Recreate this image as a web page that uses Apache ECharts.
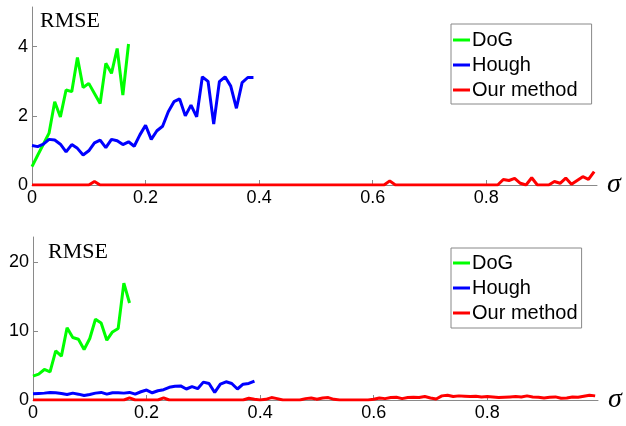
<!DOCTYPE html>
<html>
<head>
<meta charset="utf-8">
<script src="https://cdn.jsdelivr.net/npm/echarts@6/dist/echarts.min.js"></script>
<style>
  html, body { margin: 0; padding: 0; background: #fff; }
  #chart { width: 626px; height: 426px; }
</style>
</head>
<body>
<div id="chart"></div>
<script>
// sigma is sampled every 0.01, starting at 0
const STEP = 0.01
const seriesNames = ['DoG', 'Hough', 'Our method']
const xTicks = [0, 0.2, 0.4, 0.6, 0.8]
const yTicksTop = [0, 2, 4]
const yTicksBottom = [0, 10, 20]

// top panel
const dogTop = [0.53, 0.86, 1.18, 1.5, 2.41, 1.97, 2.75, 2.7, 3.69, 2.82,
    2.94, 2.65, 2.36, 3.52, 3.23, 3.95, 2.6, 4.08]
const houghTop = [1.14, 1.11, 1.18, 1.32, 1.30, 1.18, 0.96, 1.17, 1.06, 0.87,
    0.99, 1.22, 1.30, 1.08, 1.32, 1.28, 1.17, 1.25, 1.12, 1.45,
    1.73, 1.32, 1.57, 1.70, 2.12, 2.41, 2.49, 2.0, 2.31, 1.97,
    3.13, 3.0, 1.76, 2.99, 3.13, 2.86, 2.22, 2.96, 3.11, 3.11]
const oursTop = [0, 0, 0, 0, 0, 0, 0, 0, 0, 0,
    0, 0.1, 0, 0, 0, 0, 0, 0, 0, 0,
    0, 0, 0, 0, 0, 0, 0, 0, 0, 0,
    0, 0, 0, 0, 0, 0, 0, 0, 0, 0,
    0, 0, 0, 0, 0, 0, 0, 0, 0, 0,
    0, 0, 0, 0, 0, 0, 0, 0, 0, 0,
    0, 0, 0, 0.12, 0, 0, 0, 0, 0, 0,
    0, 0, 0, 0, 0, 0, 0, 0, 0, 0,
    0, 0, 0, 0.16, 0.13, 0.19, 0.05, 0, 0.21, 0,
    0, 0, 0.1, 0.05, 0.2, 0.02, 0.13, 0.24, 0.16, 0.39]

// bottom panel
const dogBottom = [3.48, 3.77, 4.44, 4.1, 7.15, 6.38, 10.5, 9.08, 8.84, 7.34,
    8.94, 11.74, 11.2, 8.7, 9.9, 10.4, 17.0, 14.1]
const houghBottom = [0.9, 0.95, 1.0, 1.1, 1.05, 0.95, 0.8, 1.0, 0.85, 0.65,
    0.8, 1.0, 1.1, 0.85, 1.05, 1.05, 1.0, 1.1, 0.85, 1.2,
    1.45, 1.05, 1.35, 1.5, 1.85, 2.0, 2.05, 1.6, 1.95, 1.65,
    2.6, 2.4, 1.1, 2.3, 2.65, 2.4, 1.6, 2.3, 2.4, 2.75]
const oursBottom = [0, 0, 0, 0, 0, 0, 0, 0, 0, 0,
    0, 0, 0, 0, 0, 0, 0, 0.3, 0, 0,
    0, 0, 0, 0.3, 0, 0, 0, 0, 0, 0,
    0, 0, 0, 0, 0, 0, 0, 0, 0.25, 0.1,
    0, 0.1, 0.35, 0.2, 0, 0, 0, 0, 0.2, 0.3,
    0.1, 0.3, 0.35, 0.1, 0, 0, 0, 0, 0, 0,
    0.1, 0.3, 0.2, 0.35, 0.4, 0.2, 0.35, 0.4, 0.35, 0.5,
    0.3, 0.15, 0.6, 0.7, 0.5, 0.6, 0.55, 0.5, 0.55, 0.45,
    0.5, 0.45, 0.35, 0.4, 0.45, 0.5, 0.45, 0.6, 0.45, 0.4,
    0.3, 0.4, 0.45, 0.25, 0.3, 0.45, 0.4, 0.55, 0.7, 0.6]

const colors = ['#00ff00', '#0000ff', '#ff0000']
const axisGray = '#8a8a8a'
const sans = 'Liberation Sans'
const serif = 'Liberation Serif'

const toPoints = arr => arr.map((v, i) => [+(i * STEP).toFixed(2), v])

const xAxisFor = (gridIndex) => ({
    type: 'value',
    gridIndex,
    min: 0,
    max: 0.995,
    name: 'σ',
    nameLocation: 'end',
    nameGap: 10,
    nameTextStyle: { fontFamily: serif, fontStyle: 'italic', fontSize: 28, color: '#000', verticalAlign: 'middle' },
    axisLine: { show: true, lineStyle: { color: axisGray, width: 1 } },
    axisTick: { show: true, inside: true, length: 5, customValues: xTicks, lineStyle: { color: axisGray } },
    axisLabel: { customValues: xTicks, margin: 4, fontFamily: sans, fontSize: 18, color: '#000',
        formatter: v => String(v) },
    splitLine: { show: false }
})

const yAxisFor = (gridIndex, max, ticks) => ({
    type: 'value',
    gridIndex,
    min: 0,
    max,
    axisLine: { show: true, lineStyle: { color: axisGray, width: 1 } },
    axisTick: { show: true, inside: true, length: 5, customValues: ticks, lineStyle: { color: axisGray } },
    axisLabel: { customValues: ticks, margin: 4, fontFamily: sans, fontSize: 18, color: '#000' },
    splitLine: { show: false }
})

const lineSeries = (name, data, idx, color) => ({
    name,
    type: 'line',
    xAxisIndex: idx,
    yAxisIndex: idx,
    data: toPoints(data),
    showSymbol: false,
    symbol: 'none',
    lineStyle: { color, width: 3 },
    itemStyle: { color },
    animation: false
})

const legendFor = (top, padding) => ({
    data: seriesNames,
    orient: 'vertical',
    left: 451,
    top,
    icon: 'rect',
    itemWidth: 17,
    itemHeight: 3,
    itemGap: 5,
    padding,
    backgroundColor: '#fff',
    borderColor: '#888',
    borderWidth: 1,
    textStyle: { fontFamily: sans, fontSize: 20, color: '#000', padding: [0, 0, 0, -3] }
})

const chart = echarts.init(document.getElementById('chart'))
chart.setOption({
    animation: false,
    color: colors,
    grid: [
        { left: 32, top: 7, width: 565, height: 178 },
        { left: 33, top: 237, width: 565, height: 163 }
    ],
    xAxis: [xAxisFor(0), xAxisFor(1)],
    yAxis: [yAxisFor(0, 5.15, yTicksTop), yAxisFor(1, 23.7, yTicksBottom)],
    legend: [legendFor(24, [6, 14, 4, 2]), legendFor(248, [5, 4, 5, 2])],
    graphic: [
        { type: 'text', left: 40, top: 10, style: { text: 'RMSE', font: '22px "Liberation Serif"', fill: '#000' } },
        { type: 'text', left: 48, top: 241, style: { text: 'RMSE', font: '22px "Liberation Serif"', fill: '#000' } }
    ],
    series: [
        lineSeries('DoG', dogTop, 0, colors[0]),
        lineSeries('Hough', houghTop, 0, colors[1]),
        lineSeries('Our method', oursTop, 0, colors[2]),
        lineSeries('DoG', dogBottom, 1, colors[0]),
        lineSeries('Hough', houghBottom, 1, colors[1]),
        lineSeries('Our method', oursBottom, 1, colors[2])
    ]
})
</script>
</body>
</html>
